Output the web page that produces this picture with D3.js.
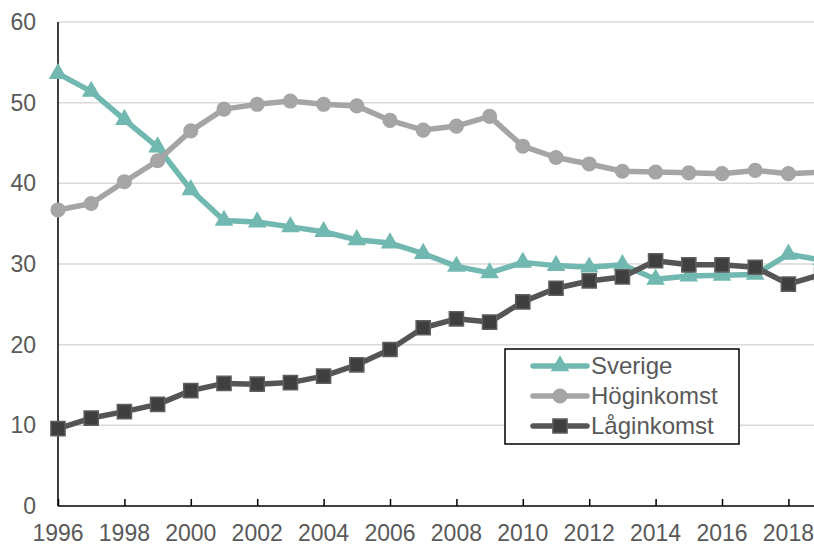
<!DOCTYPE html>
<html>
<head>
<meta charset="utf-8">
<script src="https://cdn.jsdelivr.net/npm/d3@7"></script>
<style>
  body { margin: 0; background: #fff; }
  text { font-family: "Liberation Sans", Arial, sans-serif; fill: #595959; }
</style>
</head>
<body>
<div id="chart"></div>
<script>
// years and series values
var years = d3.range(1996, 2020);
var sverige = [53.6, 51.4, 47.9, 44.5, 39.2, 35.4, 35.2, 34.6, 34.0, 33.0, 32.6, 31.3, 29.7, 28.9, 30.2,
               29.8, 29.6, 29.9, 28.1, 28.5, 28.6, 28.7, 31.2, 30.5];
var hoginkomst = [36.7, 37.5, 40.2, 42.8, 46.5, 49.2, 49.8, 50.2, 49.8, 49.6, 47.8, 46.6, 47.1, 48.3, 44.6,
                  43.2, 42.4, 41.5, 41.4, 41.3, 41.2, 41.6, 41.2, 41.4];
var laginkomst = [9.6, 10.9, 11.7, 12.6, 14.3, 15.2, 15.1, 15.3, 16.1, 17.5, 19.4, 22.1, 23.2, 22.8, 25.3,
                  27.0, 27.9, 28.4, 30.4, 29.9, 29.9, 29.6, 27.5, 28.7];
var yTicks = [0, 10, 20, 30, 40, 50, 60];
var xTicks = d3.range(1996, 2019, 2);

var svgWidth = 814, svgHeight = 546;
var margin = { top: 22, left: 58 };
var plotBottom = 506;

var svg = d3.select("#chart").append("svg")
  .attr("width", svgWidth)
  .attr("height", svgHeight);

var x = d3.scaleLinear().domain([1996, 2019]).range([margin.left, 821.6]);
var y = d3.scaleLinear().domain([0, 60]).range([plotBottom, margin.top]);

// gridlines
svg.append("g").selectAll("line")
  .data(yTicks.filter(d => d > 0))
  .enter().append("line")
  .attr("x1", margin.left).attr("x2", svgWidth)
  .attr("y1", d => y(d)).attr("y2", d => y(d))
  .attr("stroke", "#d9d9d9")
  .attr("stroke-width", 1.5);

// y axis labels
svg.append("g").selectAll("text")
  .data(yTicks)
  .enter().append("text")
  .attr("x", 36)
  .attr("y", d => y(d))
  .attr("dy", "0.35em")
  .attr("text-anchor", "end")
  .style("font-size", "23px")
  .text(d => d);

// x axis, ticks point inward
var xAxis = d3.axisTop(x).tickValues(xTicks).tickSize(7).tickFormat("");
svg.append("g")
  .attr("transform", `translate(0, ${plotBottom})`)
  .call(xAxis)
  .call(g => g.select(".domain").remove())
  .call(g => g.selectAll("line").attr("stroke", "#000").attr("stroke-width", 1.5));

svg.append("line")
  .attr("x1", margin.left).attr("x2", svgWidth)
  .attr("y1", plotBottom).attr("y2", plotBottom)
  .attr("stroke", "#000").attr("stroke-width", 1.5);

svg.append("line")
  .attr("x1", margin.left).attr("x2", margin.left)
  .attr("y1", margin.top).attr("y2", plotBottom)
  .attr("stroke", "#000").attr("stroke-width", 1.5);

svg.append("g").selectAll("text")
  .data(xTicks)
  .enter().append("text")
  .attr("x", d => x(d))
  .attr("y", 541)
  .attr("text-anchor", "middle")
  .style("font-size", "23px")
  .text(d => d);

var series = [
  { name: "Sverige", values: sverige, line: "#70b8b0", fill: "#70b8b0", stroke: "none", shape: d3.symbolTriangle, size: 150 },
  { name: "Höginkomst", values: hoginkomst, line: "#a5a5a5", fill: "#a5a5a5", stroke: "none", shape: d3.symbolCircle, size: 180 },
  { name: "Låginkomst", values: laginkomst, line: "#555555", fill: "#3f3f3f", stroke: "#5f5f5f", shape: d3.symbolSquare, size: 200 }
];

var line = d3.line()
  .x((d, i) => x(years[i]))
  .y(d => y(d));

series.forEach(function(s) {
  var g = svg.append("g");
  g.append("path")
    .attr("d", line(s.values))
    .attr("fill", "none")
    .attr("stroke", s.line)
    .attr("stroke-width", 5.5)
    .attr("stroke-linejoin", "round")
    .attr("stroke-linecap", "round");
  g.selectAll("path.mark")
    .data(s.values)
    .enter().append("path")
    .attr("class", "mark")
    .attr("d", d3.symbol().type(s.shape).size(s.size))
    .attr("transform", (d, i) => `translate(${x(years[i])}, ${y(d)})`)
    .attr("fill", s.fill)
    .attr("stroke", s.stroke)
    .attr("stroke-width", 1.5);
});

// legend
var legend = svg.append("g").attr("transform", "translate(505, 349)");
legend.append("rect")
  .attr("width", 234).attr("height", 95)
  .attr("fill", "#fff")
  .attr("stroke", "#000")
  .attr("stroke-width", 1.5);

var rows = legend.selectAll("g.row")
  .data(series)
  .enter().append("g")
  .attr("class", "row")
  .attr("transform", (d, i) => `translate(0, ${17 + i * 30})`);

rows.append("line")
  .attr("x1", 28).attr("x2", 82)
  .attr("stroke", d => d.line)
  .attr("stroke-width", 5.5)
  .attr("stroke-linecap", "round");

rows.append("path")
  .attr("d", d => d3.symbol().type(d.shape).size(d.size)())
  .attr("transform", "translate(55, 0)")
  .attr("fill", d => d.fill)
  .attr("stroke", d => d.stroke)
  .attr("stroke-width", 1.5);

rows.append("text")
  .attr("x", 86)
  .attr("dy", "0.35em")
  .style("font-size", "24px")
  .text(d => d.name);
</script>
</body>
</html>
